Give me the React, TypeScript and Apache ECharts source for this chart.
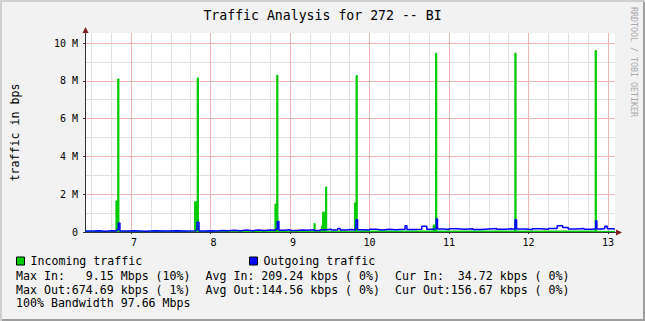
import { useEffect, useRef } from 'react';
import * as echarts from 'echarts';

const FONT = '"DejaVu Sans Mono", monospace';

const titleText = 'Traffic Analysis for 272 -- BI';
const yAxisTitle = 'traffic in bps';
const watermarkText = 'RRDTOOL / TOBI OETIKER';
const seriesNames = ['Incoming traffic', 'Outgoing traffic'];
const seriesColors = ['#00cc00', '#0000ff'];

// time in days (x-axis ticks 7..13), values in Mbit/s
const inTimes = [
  6.421, 6.81, 6.832, 6.848, 7.8, 7.832, 7.848, 8.0, 8.81, 8.833, 8.848,
  9.302, 9.316, 9.397, 9.41, 9.447, 9.462, 9.81, 9.83, 9.846, 10.8, 10.83,
  10.846, 11.828, 11.844, 12.838, 12.854, 13.088,
];
const inValues = [
  0.02, 1.65, 8.1, 0.02, 1.6, 8.15, 0.03, 0.04, 1.48, 8.3, 0.04,
  0.45, 0.04, 0.32, 1.05, 2.38, 0.04, 1.54, 8.28, 0.05, 0.37, 9.46,
  0.05, 9.46, 0.05, 9.6, 0.035, 0.035,
];

const outTimes = [
  6.421, 6.52, 6.6, 6.68, 6.76, 6.82, 6.84, 6.86, 6.95, 7.05, 7.18, 7.3,
  7.45, 7.58, 7.7, 7.82, 7.83, 7.855, 7.93, 8.0, 8.08, 8.15, 8.22, 8.3,
  8.38, 8.45, 8.53, 8.6, 8.68, 8.75, 8.82, 8.84, 8.86, 8.93, 9.0, 9.08,
  9.15, 9.22, 9.3, 9.38, 9.45, 9.52, 9.6, 9.63, 9.7, 9.77, 9.82, 9.83,
  9.85, 9.92, 10.0, 10.08, 10.16, 10.25, 10.33, 10.447, 10.47, 10.55,
  10.657, 10.72, 10.78, 10.84, 10.855, 10.93, 11.0, 11.1, 11.2, 11.3, 11.4,
  11.5, 11.6, 11.7, 11.78, 11.83, 11.85, 11.95, 12.05, 12.15, 12.25, 12.36,
  12.43, 12.5, 12.6, 12.7, 12.8, 12.845, 12.86, 12.93, 12.96, 12.99, 13.05,
  13.088,
];
const outValues = [
  0.05, 0.06, 0.04, 0.06, 0.05, 0.12, 0.48, 0.05, 0.06, 0.04, 0.06, 0.05,
  0.06, 0.05, 0.06, 0.1, 0.51, 0.05, 0.07, 0.05, 0.08, 0.06, 0.09, 0.07,
  0.1, 0.07, 0.1, 0.08, 0.1, 0.09, 0.15, 0.56, 0.09, 0.12, 0.08, 0.11,
  0.09, 0.12, 0.08, 0.12, 0.15, 0.1, 0.19, 0.1, 0.13, 0.1, 0.2, 0.65,
  0.12, 0.1, 0.14, 0.11, 0.14, 0.12, 0.15, 0.33, 0.13, 0.15,
  0.3, 0.14, 0.17, 0.69, 0.16, 0.13, 0.17, 0.14, 0.17, 0.13, 0.16,
  0.18, 0.14, 0.17, 0.14, 0.65, 0.16, 0.13, 0.17, 0.14, 0.18, 0.33,
  0.24, 0.16, 0.18, 0.14, 0.17, 0.6, 0.16, 0.18, 0.3, 0.17, 0.16,
  0.16,
];

const statsCol1 = ['Max In:   9.15 Mbps (10%)', 'Max Out:674.69 kbps ( 1%)'];
const statsCol2 = ['Avg In: 209.24 kbps ( 0%)', 'Avg Out:144.56 kbps ( 0%)'];
const statsCol3 = ['Cur In:  34.72 kbps ( 0%)', 'Cur Out:156.67 kbps ( 0%)'];
const bandwidthLine = '100% Bandwidth 97.66 Mbps';

const X_MIN = 6.421;
const X_MAX = 13.088;
const Y_MAX = 10.53;

export default function App() {
  const ref = useRef<HTMLDivElement>(null);

  useEffect(() => {
    if (!ref.current) return;
    const chart = echarts.init(ref.current, undefined, { renderer: 'svg' });

    const inData = inTimes.map((t, i) => [t, inValues[i]]);
    const outData = outTimes.map((t, i) => [t, outValues[i]]);

    const statsFont = `11.6px ${FONT}`;
    const rowsY = [276, 289.5];
    const colsX = [16, 205.5, 395];
    const statTexts: any[] = [];
    [statsCol1, statsCol2, statsCol3].forEach((col, ci) => {
      col.forEach((txt, ri) => {
        statTexts.push({
          type: 'text',
          x: colsX[ci],
          y: rowsY[ri],
          style: { text: txt, font: statsFont, fill: '#000', verticalAlign: 'middle', align: 'left' },
        });
      });
    });
    statTexts.push({
      type: 'text',
      x: 16,
      y: 303,
      style: { text: bandwidthLine, font: statsFont, fill: '#000', verticalAlign: 'middle', align: 'left' },
    });

    const legendCommon = {
      icon: 'rect',
      itemWidth: 8,
      itemHeight: 8,
      padding: 0,
      top: 255,
      selectedMode: false,
      itemStyle: { borderColor: '#000', borderWidth: 1 },
      textStyle: { fontFamily: FONT, fontSize: 11.6, color: '#000', padding: [0, 0, 0, 1] },
    };

    chart.setOption({
      animation: false,
      title: {
        text: titleText,
        left: 'center',
        top: 9,
        padding: 0,
        textStyle: { fontFamily: FONT, fontSize: 13.2, fontWeight: 'normal', color: '#000' },
      },
      legend: [
        { ...legendCommon, data: [seriesNames[0]], left: 16 },
        { ...legendCommon, data: [seriesNames[1]], left: 249 },
      ],
      grid: {
        left: 85,
        right: 30,
        top: 33,
        bottom: 89,
        show: true,
        backgroundColor: '#ffffff',
        borderWidth: 0,
      },
      xAxis: [
        {
          type: 'value',
          min: X_MIN,
          max: X_MAX,
          minInterval: 1,
          maxInterval: 1,
          z: 2,
          axisLine: { show: true, onZero: false, lineStyle: { color: '#333', width: 1 } },
          axisTick: { show: true, length: 2, lineStyle: { color: '#333' } },
          axisLabel: {
            showMinLabel: false,
            showMaxLabel: false,
            fontFamily: FONT,
            fontSize: 10,
            color: '#000',
            margin: 5,
            formatter: (v: number) => {
              const n = Math.round(v);
              return n < 10 ? `{s|${n}}` : String(n);
            },
            rich: { s: { fontFamily: FONT, fontSize: 10, color: '#000', padding: [0, 0, 0, 6] } },
          },
          splitLine: { show: true, showMinLine: false, showMaxLine: false, lineStyle: { color: '#f0b4b4', width: 1 } },
        },
        {
          type: 'value',
          min: X_MIN,
          max: X_MAX,
          minInterval: 0.25,
          maxInterval: 0.25,
          z: 1,
          axisLine: { show: false },
          axisTick: { show: false },
          axisLabel: { show: false },
          splitLine: { show: true, showMinLine: false, showMaxLine: false, lineStyle: { color: '#e0e0e0', width: 1 } },
        },
      ],
      yAxis: [
        {
          type: 'value',
          min: 0,
          max: Y_MAX,
          interval: 2,
          z: 2,
          name: yAxisTitle,
          nameLocation: 'middle',
          nameGap: 64,
          nameRotate: 90,
          nameTextStyle: { fontFamily: FONT, fontSize: 11.6, color: '#000' },
          axisLine: { show: true, lineStyle: { color: '#333', width: 1 } },
          axisTick: { show: true, length: 2, lineStyle: { color: '#333' } },
          axisLabel: {
            showMaxLabel: false,
            fontFamily: FONT,
            fontSize: 10,
            color: '#000',
            margin: 7,
            formatter: (v: number) => (v === 0 ? '0' : `${v} M`),
          },
          splitLine: { show: true, showMinLine: false, showMaxLine: false, lineStyle: { color: '#f0b4b4', width: 1 } },
        },
        {
          type: 'value',
          min: 0,
          max: Y_MAX,
          interval: 1,
          z: 1,
          position: 'left',
          axisLine: { show: false },
          axisTick: { show: false },
          axisLabel: { show: false },
          splitLine: { show: true, showMinLine: false, showMaxLine: false, lineStyle: { color: '#e0e0e0', width: 1 } },
        },
      ],
      series: [
        {
          name: seriesNames[0],
          type: 'line',
          step: 'end',
          data: inData,
          symbol: 'none',
          showSymbol: false,
          xAxisIndex: 0,
          yAxisIndex: 0,
          z: 3,
          lineStyle: { width: 1, color: seriesColors[0] },
          itemStyle: { color: seriesColors[0] },
          areaStyle: { color: seriesColors[0], opacity: 1 },
        },
        {
          name: seriesNames[1],
          type: 'line',
          step: 'end',
          data: outData,
          symbol: 'none',
          showSymbol: false,
          xAxisIndex: 0,
          yAxisIndex: 0,
          z: 4,
          lineStyle: { width: 1.5, color: seriesColors[1] },
          itemStyle: { color: seriesColors[1] },
        },
      ],
      graphic: [
        ...statTexts,
        {
          type: 'text',
          x: 633.5,
          y: 62,
          rotation: -Math.PI / 2,
          style: {
            text: watermarkText,
            font: `8.3px ${FONT}`,
            fill: '#aaaaaa',
            align: 'center',
            verticalAlign: 'middle',
          },
        },
        {
          type: 'polygon',
          shape: { points: [[82.5, 33], [85.5, 27], [88.5, 33]] },
          style: { fill: '#801f1f' },
          z: 10,
        },
        {
          type: 'polygon',
          shape: { points: [[616, 229.5], [622, 232.5], [616, 235.5]] },
          style: { fill: '#801f1f' },
          z: 10,
        },
        {
          type: 'line',
          shape: { x1: 615, y1: 232.5, x2: 616, y2: 232.5 },
          style: { stroke: '#333', lineWidth: 1 },
          z: 10,
        },
      ],
    });

    return () => chart.dispose();
  }, []);

  return (
    <div
      style={{
        position: 'absolute',
        left: 0,
        top: 0,
        width: 645,
        height: 321,
        background: '#f2f2f2',
        boxShadow: 'inset 2px 2px 0 #cfcfcf, inset -2px -2px 0 #9e9e9e',
      }}
    >
      <div ref={ref} style={{ position: 'absolute', left: 0, top: 0, width: 645, height: 321 }} />
    </div>
  );
}
